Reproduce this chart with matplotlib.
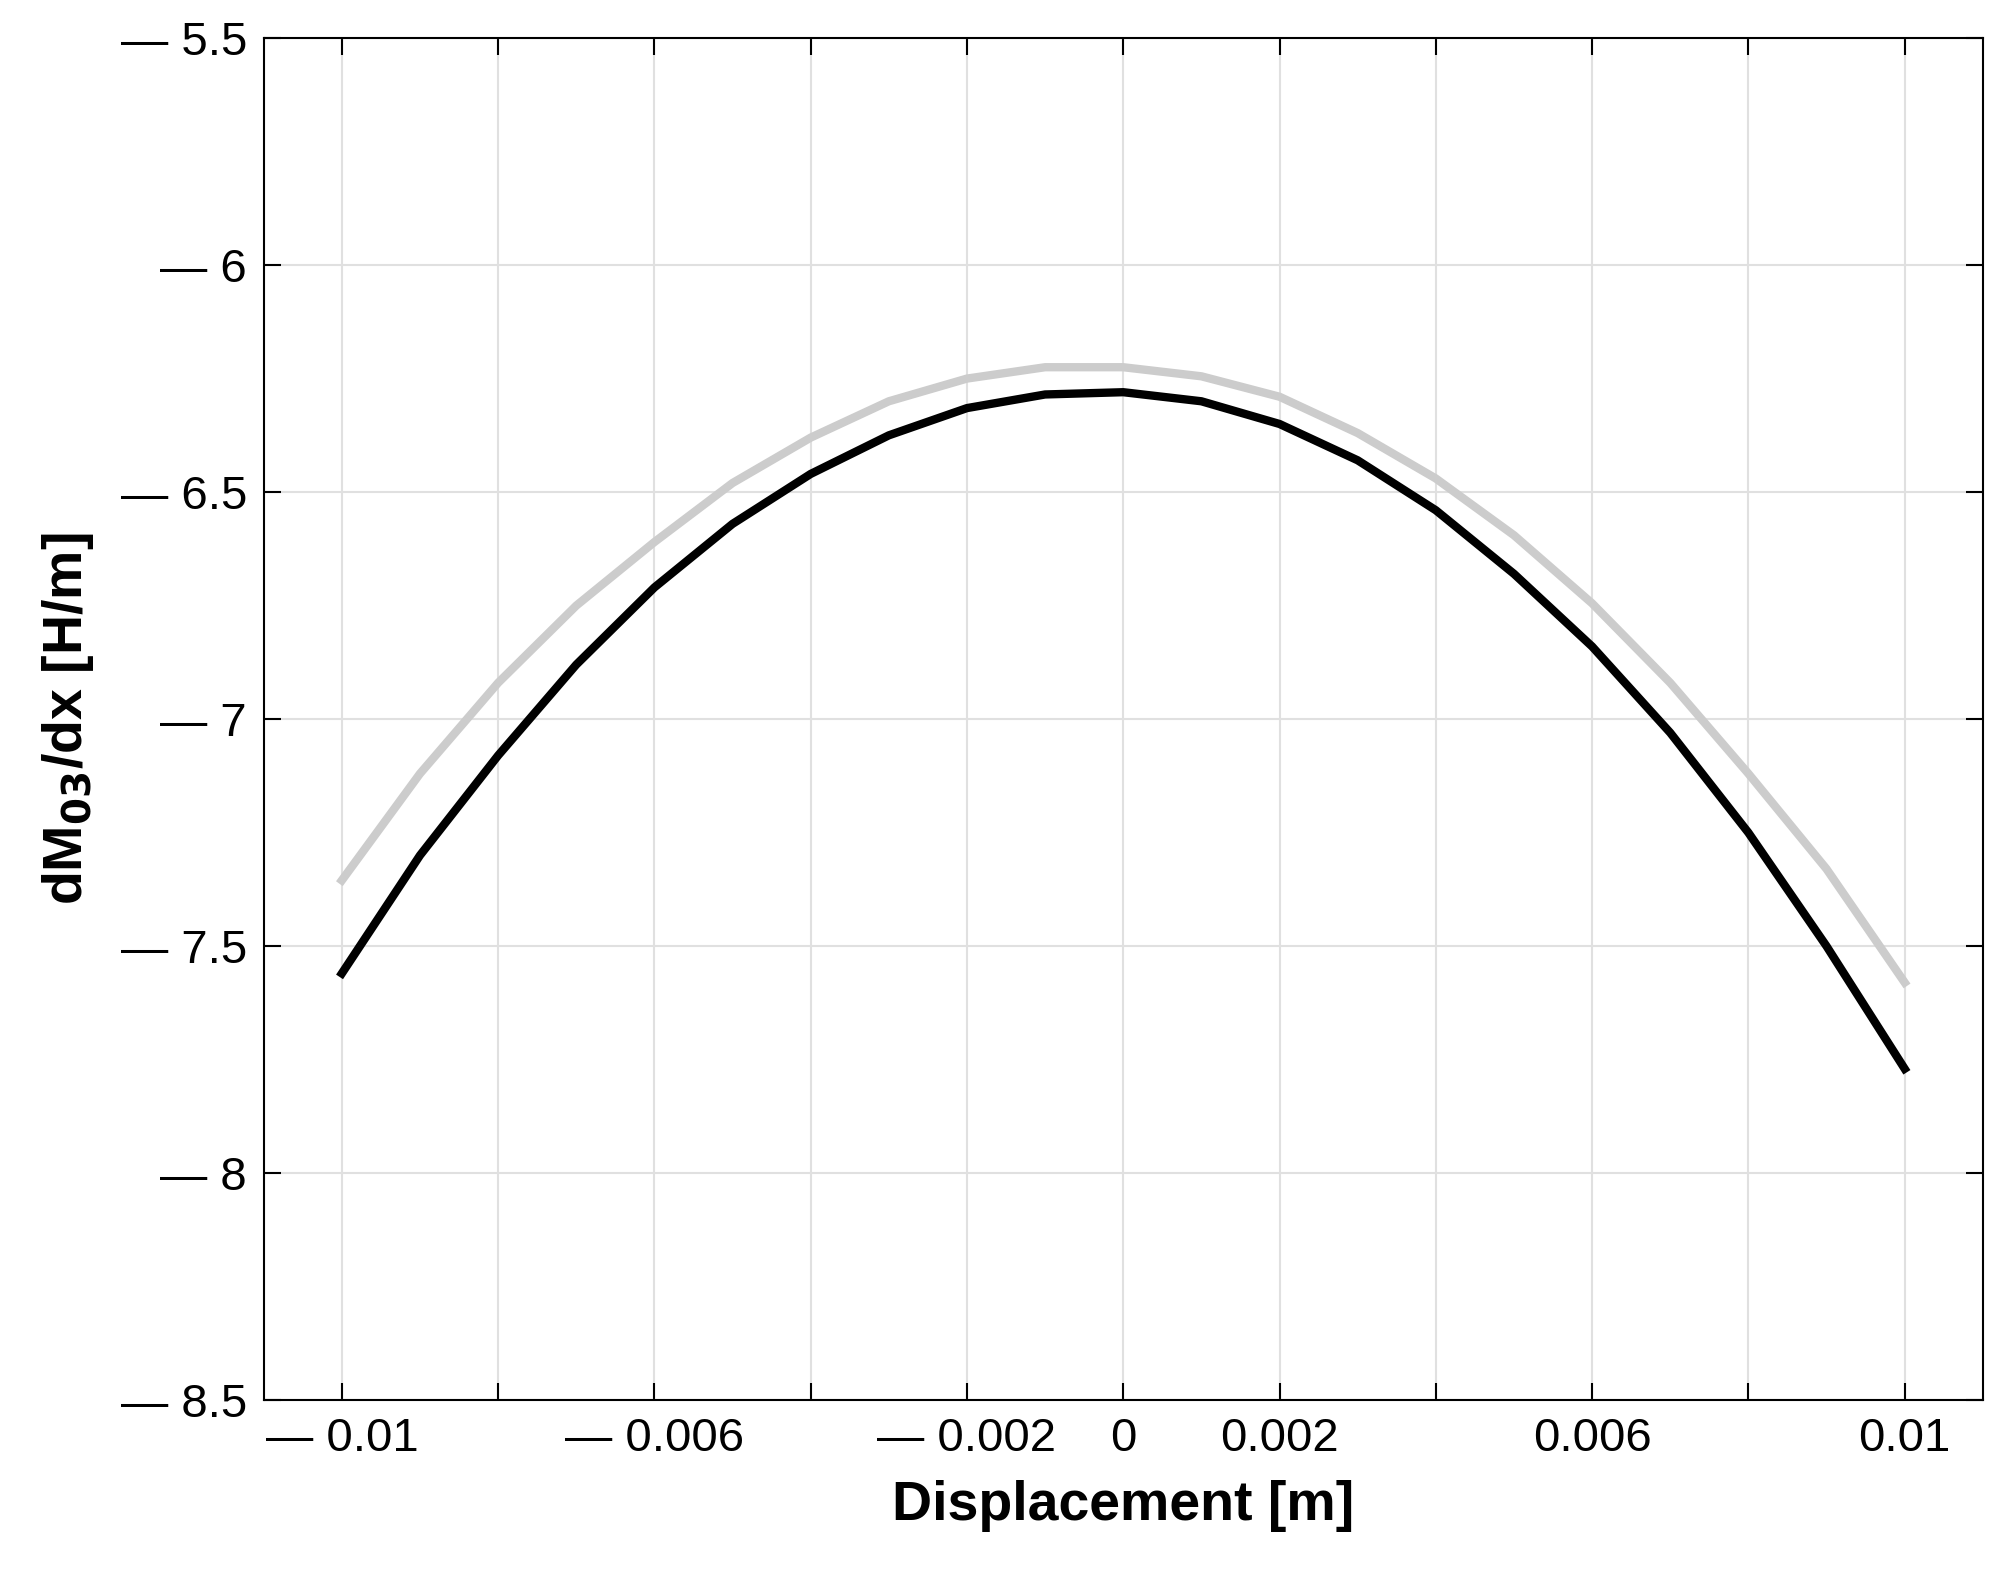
import matplotlib
matplotlib.use("Agg")
import matplotlib.pyplot as plt
import numpy as np

x = [-0.01,-0.009,-0.008,-0.007,-0.006,-0.005,-0.004,-0.003,-0.002,-0.001,0,
     0.001,0.002,0.003,0.004,0.005,0.006,0.007,0.008,0.009,0.01]
black = [-7.56,-7.30,-7.08,-6.88,-6.71,-6.57,-6.46,-6.375,-6.315,-6.285,-6.28,
         -6.30,-6.35,-6.43,-6.54,-6.68,-6.84,-7.03,-7.25,-7.50,-7.77]
gray = [-7.355,-7.12,-6.92,-6.75,-6.61,-6.48,-6.38,-6.30,-6.25,-6.225,-6.225,
        -6.245,-6.29,-6.37,-6.47,-6.595,-6.745,-6.92,-7.12,-7.33,-7.58]
xticks = [-0.01,-0.008,-0.006,-0.004,-0.002,0,0.002,0.004,0.006,0.008,0.01]
xlabels = ["\u2014 0.01","","\u2014 0.006","","\u2014 0.002","0","0.002","","0.006","","0.01"]
yticks = [-8.5,-8,-7.5,-7,-6.5,-6,-5.5]
ylabels = ["\u2014 8.5","\u2014 8","\u2014 7.5","\u2014 7","\u2014 6.5","\u2014 6","\u2014 5.5"]

plt.rcParams['font.family'] = ['Liberation Sans', 'DejaVu Sans']
fig = plt.figure(figsize=(20.13, 15.84), dpi=100)
ax = fig.add_axes([0.131, 0.116, 0.854, 0.86])
ax.plot(x, gray, color='#cccccc', lw=6)
ax.plot(x, black, color='black', lw=6)
ax.set_xlim(-0.011, 0.011)
ax.set_ylim(-8.5, -5.5)
ax.set_xticks(xticks)
ax.set_xticklabels(xlabels)
ax.set_yticks(yticks)
ax.set_yticklabels(ylabels)
ax.grid(True, color='#e0e0e0', lw=1.5)
ax.tick_params(direction='in', length=12, width=1.5, labelsize=34, top=True, right=True, pad=12)
for s in ax.spines.values():
    s.set_linewidth(1.5)
ax.set_xlabel("Displacement [m]", fontsize=40, fontweight='bold', labelpad=14)
ax.set_ylabel("dM$_{\\mathbf{03}}$/dx [H/m]", fontsize=40, fontweight='bold', labelpad=18)
fig.savefig("out.png", dpi=100)
